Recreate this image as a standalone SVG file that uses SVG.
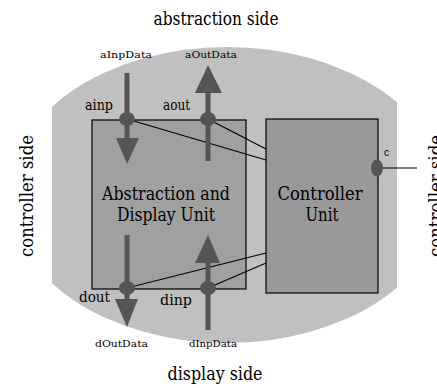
<svg xmlns="http://www.w3.org/2000/svg" width="437" height="388" viewBox="0 0 437 388">
<style>
text{font-family:"DejaVu Serif","Liberation Serif",serif}
.big{font-size:18px;fill:#000;text-anchor:middle}
.lbl{font-size:14px;fill:#000}
.data{font-size:10px;fill:#000}
.box{stroke:#000;stroke-width:1.2}
.dark{fill:#555555}
.shaft{stroke:#555555;stroke-width:5}
.wire{stroke:#000;stroke-width:1.2;fill:none}
</style>
<defs>
<clipPath id="clip"><rect x="52" y="0" width="345" height="388"/></clipPath>
</defs>
<rect width="437" height="388" fill="#fff"/>
<g id="background">
<ellipse cx="227" cy="195" rx="218" ry="148" fill="#c0c0c0" clip-path="url(#clip)"/>
</g>
<g id="side-labels">
<text class="big" x="216" y="25" textLength="125" lengthAdjust="spacingAndGlyphs">abstraction side</text>
<text class="big" x="215" y="380" textLength="95" lengthAdjust="spacingAndGlyphs">display side</text>
<text class="big" transform="translate(33,196) rotate(-90)" textLength="122" lengthAdjust="spacingAndGlyphs">controller side</text>
<text class="big" transform="translate(442,196) rotate(-90)" textLength="122" lengthAdjust="spacingAndGlyphs">controller side</text>
</g>
<g id="adu">
<rect class="box" x="92" y="120" width="154" height="169" fill="#a0a0a0"/>
<text class="big" x="166" y="200" textLength="128" lengthAdjust="spacingAndGlyphs">Abstraction and</text>
<text class="big" x="166" y="221" textLength="98" lengthAdjust="spacingAndGlyphs">Display Unit</text>
</g>
<g id="cu">
<rect class="box" x="266" y="119" width="112" height="174" fill="#999999"/>
<text class="big" x="320" y="200" textLength="85" lengthAdjust="spacingAndGlyphs">Controller</text>
<text class="big" x="322" y="221" textLength="33" lengthAdjust="spacingAndGlyphs">Unit</text>
</g>
<g id="connectors">
<line class="wire" x1="127" y1="119" x2="266" y2="160"/>
<line class="wire" x1="208" y1="119" x2="266" y2="149"/>
<line class="wire" x1="127" y1="288" x2="266" y2="253"/>
<line class="wire" x1="208" y1="288" x2="266" y2="263"/>
<line class="wire" x1="377" y1="168" x2="417" y2="168"/>
</g>
<g id="ainp">
<line class="shaft" x1="127" y1="73" x2="127" y2="140"/>
<polygon class="dark" points="116,138 139,138 127,164"/>
<ellipse class="dark" cx="127" cy="119" rx="8" ry="7"/>
<text class="lbl" x="85" y="110" textLength="28" lengthAdjust="spacingAndGlyphs">ainp</text>
<text class="data" x="100" y="58" textLength="52" lengthAdjust="spacingAndGlyphs">aInpData</text>
</g>
<g id="aout">
<line class="shaft" x1="208" y1="161" x2="208" y2="92"/>
<polygon class="dark" points="195,93 222,93 208,65"/>
<ellipse class="dark" cx="208" cy="119" rx="8" ry="7"/>
<text class="lbl" x="163" y="110" textLength="27" lengthAdjust="spacingAndGlyphs">aout</text>
<text class="data" x="185" y="58" textLength="52" lengthAdjust="spacingAndGlyphs">aOutData</text>
</g>
<g id="dout">
<line class="shaft" x1="127" y1="235" x2="127" y2="301"/>
<polygon class="dark" points="115,299 138,299 127,327"/>
<ellipse class="dark" cx="127" cy="288" rx="8" ry="7"/>
<text class="lbl" x="79" y="302" textLength="31" lengthAdjust="spacingAndGlyphs">dout</text>
<text class="data" x="95" y="347" textLength="53" lengthAdjust="spacingAndGlyphs">dOutData</text>
</g>
<g id="dinp">
<line class="shaft" x1="208" y1="330" x2="208" y2="262"/>
<polygon class="dark" points="195,263 220,263 208,235"/>
<ellipse class="dark" cx="208" cy="288" rx="8" ry="7"/>
<text class="lbl" x="160" y="305" textLength="32" lengthAdjust="spacingAndGlyphs">dinp</text>
<text class="data" x="189" y="347" textLength="48" lengthAdjust="spacingAndGlyphs">dInpData</text>
</g>
<g id="c-port">
<ellipse class="dark" cx="377" cy="168" rx="6" ry="8.5"/>
<text x="384" y="156" style="font-family:'Liberation Sans',Arial,sans-serif" font-size="10">c</text>
</g>
</svg>
